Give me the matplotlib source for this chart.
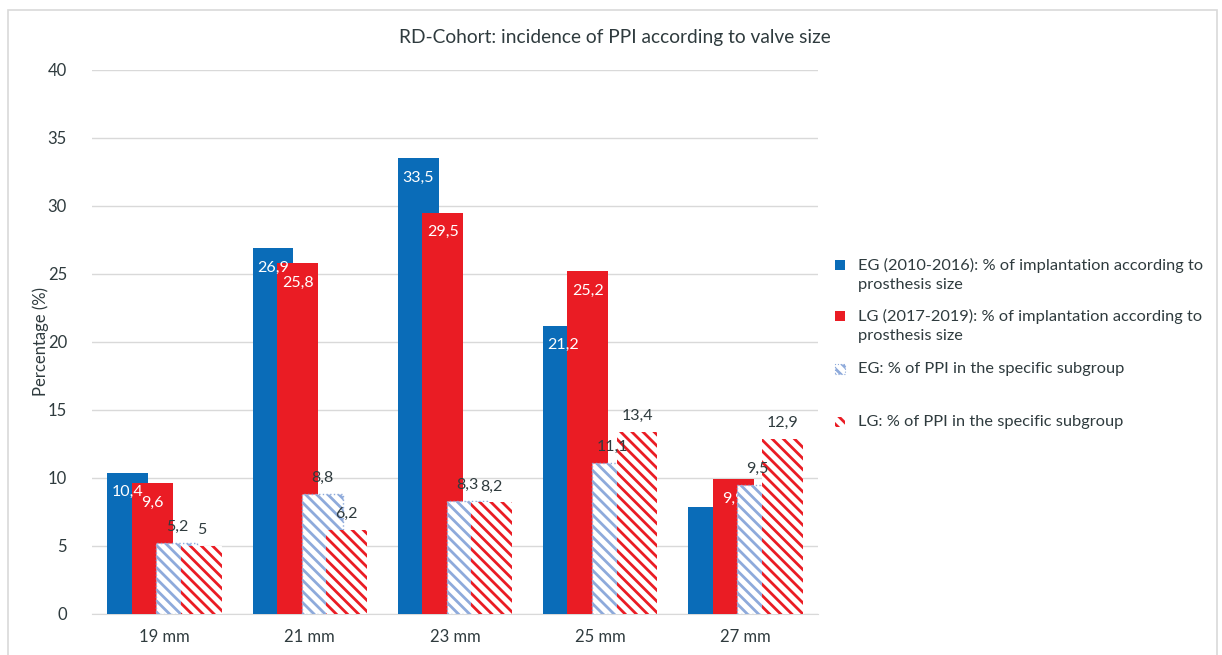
import matplotlib
matplotlib.use('Agg')
import matplotlib.pyplot as plt
from matplotlib.patches import Rectangle
import numpy as np

# ---- data ----
categories = ['19 mm', '21 mm', '23 mm', '25 mm', '27 mm']
eg_impl = [10.4, 26.9, 33.5, 21.2, 7.9]
lg_impl = [9.6, 25.8, 29.5, 25.2, 9.9]
eg_ppi = [5.2, 8.8, 8.3, 11.1, 9.5]
lg_ppi = [5.0, 6.2, 8.2, 13.4, 12.9]
eg_impl_label_shown = [True, True, True, True, False]
series_labels = [
    'EG (2010-2016): % of implantation according to\nprosthesis size',
    'LG (2017-2019): % of implantation according to\nprosthesis size',
    'EG: % of PPI in the specific subgroup',
    'LG: % of PPI in the specific subgroup',
]
title = 'RD-Cohort: incidence of PPI according to valve size'
ylabel = 'Percentage (%)'
yticks = [0, 5, 10, 15, 20, 25, 30, 35, 40]

# ---- style ----
FONT = 'Lato'
plt.rcParams['font.family'] = [FONT, 'DejaVu Sans']
plt.rcParams['hatch.linewidth'] = 2.0
TXT = '#2f3b3e'
BLUE = '#0a6cb8'
RED = '#ea1c24'
LBLUE = '#8eaadb'
HATCH = '\\\\\\'

W, H = 1222, 655
fig = plt.figure(figsize=(W / 100, H / 100), dpi=100)
ax = fig.add_axes([92 / W, (H - 614) / H, (818 - 92) / W, (614 - 70) / H])

x = np.arange(len(categories))
bw = 0.282
step = 0.169
offs = [-1.5 * step, -0.5 * step, 0.5 * step, 1.5 * step]

def fmt(v):
    return f'{v:g}'.replace('.', ',')

# solid series
b1 = ax.bar(x + offs[0], eg_impl, bw, color=BLUE, zorder=2, linewidth=0)
b2 = ax.bar(x + offs[1], lg_impl, bw, color=RED, zorder=2.1, linewidth=0)
for bars, vals, shown in [(b1, eg_impl, eg_impl_label_shown), (b2, lg_impl, [True] * 5)]:
    for r, v, s in zip(bars, vals, shown):
        if not s:
            continue
        ax.annotate(fmt(v), (r.get_x() + r.get_width() / 2, v), xytext=(0, -14),
                    textcoords='offset points', ha='center', va='center',
                    color='white', fontsize=11.5, zorder=3)

# hatched series (drawn on top)
b3 = ax.bar(x + offs[2], eg_ppi, bw, facecolor='white', edgecolor=LBLUE,
            hatch=HATCH, linewidth=1.0, linestyle=':', zorder=4)
b4 = ax.bar(x + offs[3], lg_ppi, bw, facecolor='white', edgecolor=RED,
            hatch=HATCH, linewidth=0, zorder=4.1)
for bars, vals in [(b3, eg_ppi), (b4, lg_ppi)]:
    for r, v in zip(bars, vals):
        ax.annotate(fmt(v), (r.get_x() + r.get_width() / 2, v), xytext=(0, 11.5),
                    textcoords='offset points', ha='center', va='center',
                    color=TXT, fontsize=11.5, zorder=5)

ax.set_xlim(-0.5, len(categories) - 0.5)
ax.set_ylim(0, 40)
ax.set_yticks(yticks)
ax.set_yticklabels([str(t) for t in yticks], fontsize=12, color=TXT)
ax.set_xticks(x)
ax.set_xticklabels(categories, fontsize=12, color=TXT)
ax.tick_params(axis='both', length=0)
ax.tick_params(axis='y', pad=18)
ax.tick_params(axis='x', pad=11)
ax.grid(axis='y', color='#d9d9d9', linewidth=1, zorder=0)
ax.set_axisbelow(True)
for s in ['top', 'right', 'left']:
    ax.spines[s].set_visible(False)
ax.spines['bottom'].set_color('#d9d9d9')
ax.spines['bottom'].set_zorder(1)
ax.set_ylabel(ylabel, fontsize=12, color=TXT)
ax.yaxis.set_label_coords((49 - 92) / (818 - 92), 0.5)

fig.text(615 / W, (H - 37) / H, title, ha='center', va='center', fontsize=13.8, color=TXT)

# legend (manual, Excel-like layout)
leg_y = [265, 316, 369, 422]
leg_styles = [
    dict(facecolor=BLUE, edgecolor=BLUE, linewidth=0),
    dict(facecolor=RED, edgecolor=RED, linewidth=0),
    dict(facecolor='white', edgecolor=LBLUE, hatch=HATCH, linewidth=0.8, linestyle=':'),
    dict(facecolor='white', edgecolor=RED, hatch=HATCH, linewidth=0),
]
for yy, lab, st in zip(leg_y, series_labels, leg_styles):
    fig.add_artist(Rectangle((835 / W, (H - yy - 5) / H), 10 / W, 10 / H,
                             transform=fig.transFigure, **st))
    for i, ln in enumerate(lab.split('\n')):
        fig.text(858 / W, (H - yy - 20 * i) / H, ln, ha='left', va='center',
                 fontsize=11.8, color=TXT)

# outer frame
fig.add_artist(Rectangle((8 / W, -0.05), (1217 - 8) / W, (H - 10) / H + 0.05,
                         transform=fig.transFigure, fill=False,
                         edgecolor='#d9d9d9', linewidth=1.2))

fig.savefig('out.png', dpi=100)
